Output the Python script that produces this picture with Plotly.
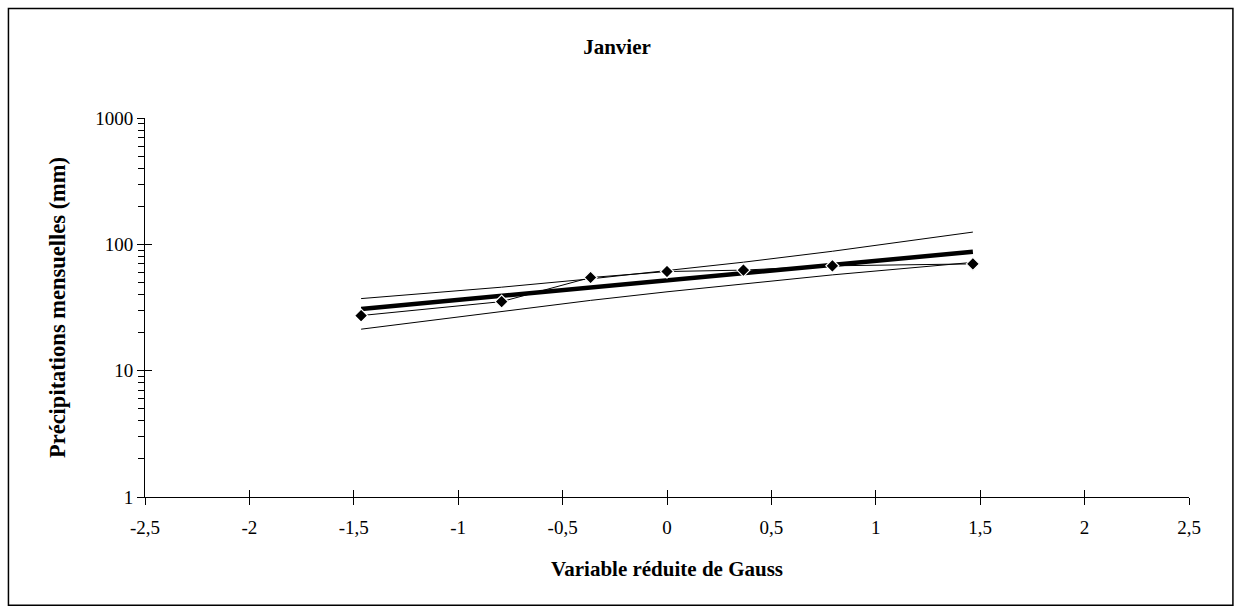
import plotly.graph_objects as go

# Gauss reduced variable (Hazen positions, n=7)
z = [-1.465, -0.792, -0.366, 0.0, 0.366, 0.792, 1.465]
# observed monthly precipitation (mm)
precip = [27.3, 35.2, 54.6, 60.9, 62.5, 67.6, 70.0]
# fitted log-normal line (mm)
fit = [30.8, 39.2, 45.6, 51.9, 59.1, 68.7, 87.3]
# confidence bands (mm)
upper = [37.2, 45.8, 53.3, 61.7, 72.2, 88.1, 125.0]
lower = [21.3, 29.6, 36.0, 42.1, 48.8, 57.3, 72.0]

x_ticks = [-2.5, -2, -1.5, -1, -0.5, 0, 0.5, 1, 1.5, 2, 2.5]
x_ticktext = ["-2,5", "-2", "-1,5", "-1", "-0,5", "0", "0,5", "1", "1,5", "2", "2,5"]
y_ticks = [1, 10, 100, 1000]
y_ticktext = ["1", "10", "100", "1000"]

W, H = 1238, 615
ml, mr, mt, mb = 145, 49.4, 118.3, 118.1
pw, ph = W - ml - mr, H - mt - mb

def px_x(p):
    return (p - ml) / pw

def px_y(p):
    return (H - p - mb) / ph

FONT = "Liberation Serif, Times New Roman, serif"

fig = go.Figure()
fig.add_trace(go.Scatter(x=z, y=upper, mode="lines", line=dict(color="black", width=1), hoverinfo="skip"))
fig.add_trace(go.Scatter(x=z, y=lower, mode="lines", line=dict(color="black", width=1), hoverinfo="skip"))
fig.add_trace(go.Scatter(x=z, y=fit, mode="lines", line=dict(color="black", width=4.5), hoverinfo="skip"))
fig.add_trace(go.Scatter(x=z, y=precip, mode="lines+markers",
                         line=dict(color="black", width=1),
                         marker=dict(symbol="diamond", size=10, color="black",
                                     line=dict(color="white", width=1.2))))
# helper trace for the inside-tick axes
fig.add_trace(go.Scatter(x=[0], y=[10], xaxis="x2", yaxis="y2", mode="markers",
                         marker=dict(opacity=0), hoverinfo="skip"))

fig.update_layout(
    width=W, height=H,
    margin=dict(l=ml, r=mr, t=mt, b=mb, autoexpand=False),
    paper_bgcolor="white", plot_bgcolor="white",
    showlegend=False,
    font=dict(family=FONT, size=19, color="black"),
    title=dict(text="<b>Janvier</b>", xref="container", x=617 / W, xanchor="center",
               yref="container", y=1 - 47 / H, yanchor="middle", font=dict(family=FONT, size=21)),
    xaxis=dict(range=[-2.5, 2.5], tickvals=x_ticks, ticktext=x_ticktext,
               showgrid=False, zeroline=False, showline=True, linecolor="black",
               linewidth=1, ticks="outside", ticklen=7, tickcolor="black",
               tickfont=dict(family=FONT, size=19), ticklabelstandoff=6,
               title=dict(text="<b>Variable réduite de Gauss</b>",
                          font=dict(family=FONT, size=21), standoff=24)),
    yaxis=dict(type="log", range=[0, 3], tickvals=y_ticks, ticktext=y_ticktext,
               showgrid=False, zeroline=False, showline=True, linecolor="black",
               linewidth=1, ticks="outside", ticklen=7, tickcolor="black",
               tickfont=dict(family=FONT, size=19),
               minor=dict(ticks="outside", ticklen=6, tickcolor="black", dtick="D1", showgrid=False),
               title=dict(text="<b>Précipitations mensuelles (mm)</b>",
                          font=dict(family=FONT, size=22.5), standoff=23)),
    xaxis2=dict(range=[-2.5, 2.5], overlaying="x", tickvals=x_ticks, showticklabels=False,
                showgrid=False, zeroline=False, showline=False, ticks="inside",
                ticklen=7, tickcolor="black"),
    yaxis2=dict(type="log", range=[0, 3], overlaying="y", tickvals=y_ticks, showticklabels=False,
                showgrid=False, zeroline=False, showline=False, ticks="inside",
                ticklen=7, tickcolor="black"),
    shapes=[dict(type="rect", xref="paper", yref="paper",
                 x0=px_x(8.5), x1=px_x(1232.5), y0=px_y(605), y1=px_y(9),
                 line=dict(color="black", width=1.5), fillcolor="rgba(0,0,0,0)", layer="below")],
)

fig.write_html("out.html", config={"displayModeBar": False},
               post_script="document.body.style.margin='0';document.body.style.overflow='hidden';")
